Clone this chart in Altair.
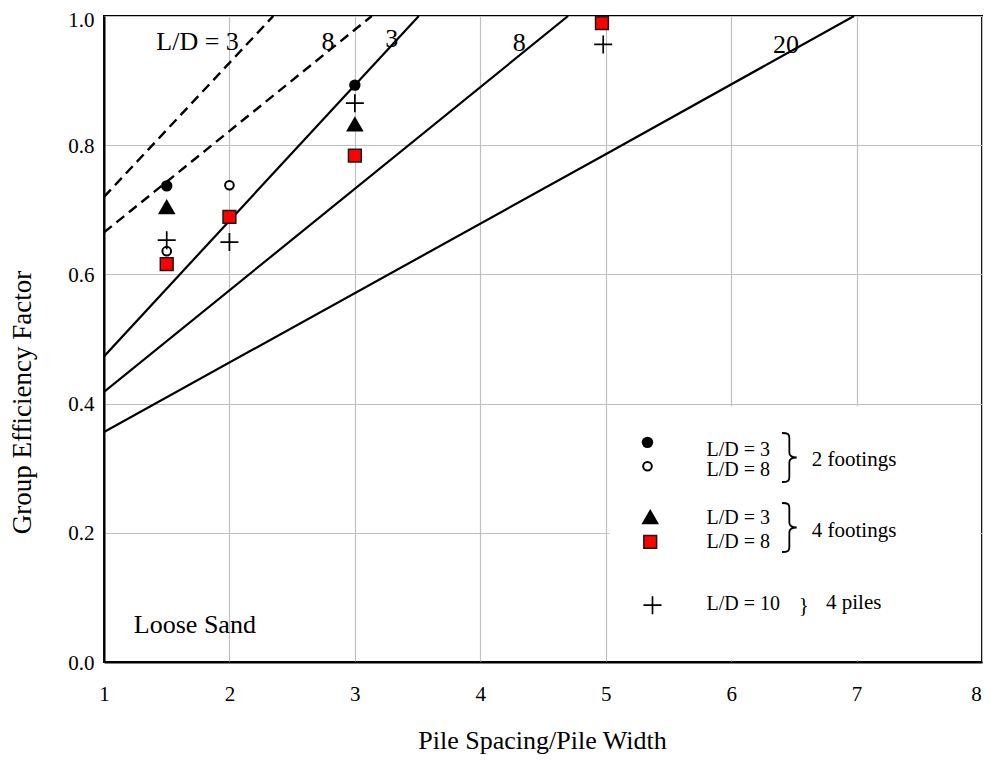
import altair as alt
import pandas as pd

FONT = "Liberation Serif"

# ---- design curves ----
dash_ld3_x = [1.0, 2.35]
dash_ld3_y = [0.72, 1.0]
dash_ld8_x = [1.0, 3.135]
dash_ld8_y = [0.665, 1.0]
solid_ld3_x = [1.0, 3.51]
solid_ld3_y = [0.473, 1.0]
solid_ld8_x = [1.0, 4.70]
solid_ld8_y = [0.418, 1.0]
solid_ld20_x = [1.0, 5.0, 6.98]
solid_ld20_y = [0.356, 0.786, 1.0]

# ---- measured points ----
two_ft_ld3_x = [1.5, 3.0]
two_ft_ld3_y = [0.737, 0.893]
two_ft_ld8_x = [1.5, 2.0]
two_ft_ld8_y = [0.636, 0.738]
four_ft_ld3_x = [1.5, 3.0]
four_ft_ld3_y = [0.705, 0.833]
four_ft_ld8_x = [1.5, 2.0, 3.0, 4.97]
four_ft_ld8_y = [0.616, 0.689, 0.784, 0.989]
four_pile_x = [1.5, 2.0, 3.0, 4.98]
four_pile_y = [0.653, 0.650, 0.865, 0.956]

# ---- curve labels ----
curve_labels = ["L/D = 3", "8", "3", "8", "20"]
curve_label_x = [1.746, 2.786, 3.294, 4.31, 6.437]
curve_label_y = [0.947, 0.947, 0.9525, 0.946, 0.943]

note_text = ["Loose Sand"]
note_x = [1.238]
note_y = [0.0444]

# ---- legend ----
legend_box_x = [5.03, 7.985]
legend_box_y = [0.003, 0.396]
legend_marker_x = [5.333, 5.333, 5.355, 5.355, 5.373]
legend_marker_y = [0.340, 0.303, 0.225, 0.186, 0.088]
legend_labels = ["L/D = 3", "L/D = 8", "L/D = 3", "L/D = 8", "L/D = 10"]
legend_label_x = [5.804, 5.804, 5.804, 5.804, 5.804]
legend_label_y = [0.3194, 0.2879, 0.2136, 0.176, 0.0805]
group_labels = ["2 footings", "4 footings", "4 piles"]
group_label_x = [6.643, 6.643, 6.756]
group_label_y = [0.3034, 0.194, 0.0816]
brace_x = [6.464, 6.464]
brace_y = [0.3166, 0.2082]
small_brace_x = [6.579]
small_brace_y = [0.0867]

x_ticks = [1, 2, 3, 4, 5, 6, 7, 8]
y_ticks = [0.0, 0.2, 0.4, 0.6, 0.8, 1.0]

xs = alt.Scale(domain=[1, 8], nice=False, zero=False)
ys = alt.Scale(domain=[0, 1], nice=False, zero=False)

x_axis = alt.Axis(
    values=x_ticks, format="d", grid=True, ticks=False, tickSize=0,
    labelFont=FONT, labelFontSize=21, labelPadding=38, labelBaseline="alphabetic",
    labelFlush=False, labelColor="black",
    labelOffset={"condition": {"test": "datum.value == 8", "value": -6}, "value": 0},
    title="Pile Spacing/Pile Width", titleFont=FONT, titleFontSize=26,
    titleFontWeight="normal", titleColor="black",
    titleX=438, titleY=86, titleBaseline="alphabetic", titleAlign="center",
)
y_axis = alt.Axis(
    values=y_ticks, format=".1f", grid=True, ticks=False, tickSize=0,
    labelFont=FONT, labelFontSize=21, labelPadding=10, labelBaseline="alphabetic",
    labelOffset={"condition": {"test": "datum.value == 1", "value": 10}, "value": 7},
    labelColor="black",
    title="Group Efficiency Factor", titleFont=FONT, titleFontSize=27,
    titleFontWeight="normal", titleColor="black",
    titleX=-74, titleY=386, titleAngle=270, titleBaseline="alphabetic", titleAlign="center",
)


def X(f):
    return alt.X(f, type="quantitative", scale=xs, axis=x_axis)


def Y(f):
    return alt.Y(f, type="quantitative", scale=ys, axis=y_axis)


def curve(name, xv, yv):
    return pd.DataFrame({"x": xv, "y": yv, "curve": [name] * len(xv)})


dashed_df = pd.concat([curve("d3", dash_ld3_x, dash_ld3_y), curve("d8", dash_ld8_x, dash_ld8_y)])
solid_df = pd.concat([
    curve("s3", solid_ld3_x, solid_ld3_y),
    curve("s8", solid_ld8_x, solid_ld8_y),
    curve("s20", solid_ld20_x, solid_ld20_y),
])


def pts(xv, yv, li):
    return pd.DataFrame({"x": list(xv) + [legend_marker_x[li]], "y": list(yv) + [legend_marker_y[li]]})


box = alt.Chart(pd.DataFrame({"x1": [legend_box_x[0]], "x2": [legend_box_x[1]],
                              "y1": [legend_box_y[0]], "y2": [legend_box_y[1]]})).mark_rect(
    fill="white", opacity=1).encode(x=X("x1"), x2="x2", y=Y("y1"), y2="y2")

dashed = alt.Chart(dashed_df).mark_line(color="black", strokeWidth=2.4, strokeDash=[10, 6], clip=True).encode(
    x=X("x"), y=Y("y"), detail="curve:N")
solid = alt.Chart(solid_df).mark_line(color="black", strokeWidth=2.2, clip=True).encode(
    x=X("x"), y=Y("y"), detail="curve:N")

filled_c = alt.Chart(pts(two_ft_ld3_x, two_ft_ld3_y, 0)).mark_point(
    shape="circle", filled=True, color="black", size=130, opacity=1).encode(x=X("x"), y=Y("y"))
open_c = alt.Chart(pts(two_ft_ld8_x, two_ft_ld8_y, 1)).mark_point(
    shape="circle", filled=True, fill="white", stroke="black", strokeWidth=2, size=75, opacity=1).encode(
    x=X("x"), y=Y("y"))
tri = alt.Chart(pts(four_ft_ld3_x, four_ft_ld3_y, 2)).mark_point(
    shape="triangle-up", filled=True, color="black", size=310, opacity=1).encode(x=X("x"), y=Y("y"))
sq = alt.Chart(pts(four_ft_ld8_x, four_ft_ld8_y, 3)).mark_point(
    shape="square", filled=True, fill="#ff0000", stroke="#1a1a1a", strokeWidth=1.5, size=164, opacity=1).encode(
    x=X("x"), y=Y("y"))
plus = alt.Chart(pts(four_pile_x, four_pile_y, 4)).mark_point(
    shape="M-1,0L1,0M0,-1L0,1", filled=False, color="black", strokeWidth=1.7, size=324, opacity=1).encode(
    x=X("x"), y=Y("y"))

curve_text = alt.Chart(pd.DataFrame({"x": curve_label_x, "y": curve_label_y, "t": curve_labels})).mark_text(
    font=FONT, fontSize=26, color="black", align="center", baseline="alphabetic").encode(
    x=X("x"), y=Y("y"), text="t:N")
note = alt.Chart(pd.DataFrame({"x": note_x, "y": note_y, "t": note_text})).mark_text(
    font=FONT, fontSize=26, color="black", align="left", baseline="alphabetic").encode(
    x=X("x"), y=Y("y"), text="t:N")
leg_text = alt.Chart(pd.DataFrame({"x": legend_label_x, "y": legend_label_y, "t": legend_labels})).mark_text(
    font=FONT, fontSize=20, color="black", align="left", baseline="alphabetic").encode(
    x=X("x"), y=Y("y"), text="t:N")
grp_text = alt.Chart(pd.DataFrame({"x": group_label_x, "y": group_label_y, "t": group_labels})).mark_text(
    font=FONT, fontSize=21, color="black", align="left", baseline="alphabetic").encode(
    x=X("x"), y=Y("y"), text="t:N")
brace = alt.Chart(pd.DataFrame({"x": brace_x, "y": brace_y})).mark_point(
    shape="M-0.3,-1 C-0.05,-1 0,-0.95 0,-0.8 L0,-0.2 C0,-0.07 0.1,0 0.3,0 C0.1,0 0,0.07 0,0.2 L0,0.8 C0,0.95 -0.05,1 -0.3,1",
    filled=False, color="black", strokeWidth=1.8, size=2401, opacity=1).encode(x=X("x"), y=Y("y"))
small_brace = alt.Chart(pd.DataFrame({"x": small_brace_x, "y": small_brace_y, "t": ["}"]})).mark_text(
    font=FONT, fontSize=21, color="black", align="center", baseline="middle").encode(
    x=X("x"), y=Y("y"), text="t:N")

chart = alt.layer(
    box, dashed, solid, curve_text, note, filled_c, open_c, tri, sq, plus,
    leg_text, grp_text, brace, small_brace,
).properties(
    width=878, height=646,
    autosize=alt.AutoSizeParams(type="none"),
    padding={"left": 96, "top": 8, "right": 1, "bottom": 92},
    background="white",
).configure_view(
    stroke="black", strokeWidth=2,
).configure_axis(
    gridColor="#c0c0c0", gridWidth=1.2, gridOpacity=1,
    domainColor="black", domainWidth=2,
)

chart.save("out.html", embed_options={"renderer": "svg", "actions": False})
